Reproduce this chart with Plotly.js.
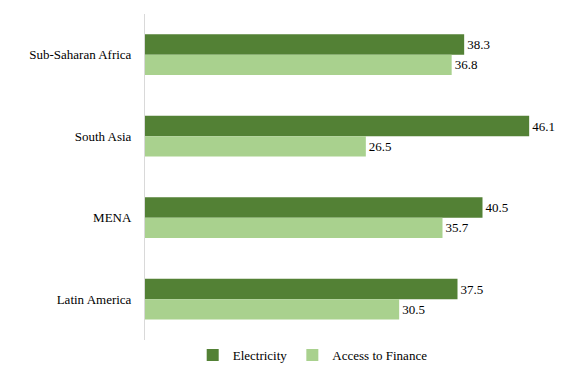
<!DOCTYPE html>
<html><head><meta charset="utf-8">
<script src="https://cdn.plot.ly/plotly-3.0.1.min.js"></script>
<style>body{margin:0;padding:0;background:#fff}#c{width:579px;height:369px}
#c svg text{font-family:'Liberation Serif',serif !important}</style>
</head><body><div id="c"></div>
<script>
const regions = ["Sub-Saharan Africa", "South Asia", "MENA", "Latin America"];
const electricity = [38.3, 46.1, 40.5, 37.5];
const finance = [36.8, 26.5, 35.7, 30.5];
const seriesNames = ["Electricity", "Access to Finance"];
const serifFont = {family: "Liberation Serif", size: 13, color: "#000"};
const mk = (name, vals, color) => ({
  type: "bar", orientation: "h", name: name, y: regions, x: vals,
  marker: {color: color},
  text: vals.map(v => v.toFixed(1)), textposition: "outside",
  textfont: serifFont, cliponaxis: false, hoverinfo: "skip"
});
Plotly.newPlot("c", [
  mk(seriesNames[0], electricity, "#538135"),
  mk(seriesNames[1], finance, "#a9d18e")
], {
  width: 579, height: 369,
  margin: {l: 145, r: 4, t: 14, b: 25},
  barmode: "group", bargap: 0.5, bargroupgap: 0,
  font: serifFont,
  paper_bgcolor: "#fff", plot_bgcolor: "#fff",
  xaxis: {range: [0, 51.6], showgrid: false, zeroline: false, showticklabels: false, ticks: "", showline: false, fixedrange: true},
  yaxis: {autorange: "reversed", showline: true, linecolor: "#d9d9d9", linewidth: 1, ticks: "", ticklabelstandoff: 10, showgrid: false, tickfont: serifFont},
  showlegend: true,
  legend: {orientation: "h", xref: "paper", x: 0.39, xanchor: "center", yref: "container", y: 0.038, yanchor: "middle", font: serifFont, itemwidth: 30, tracegroupgap: 0}
}, {staticPlot: true}).then(gd => {
  gd.querySelectorAll("text").forEach(t => { t.style.setProperty("font-family", "'Liberation Serif', serif", "important"); });
});
</script></body></html>
